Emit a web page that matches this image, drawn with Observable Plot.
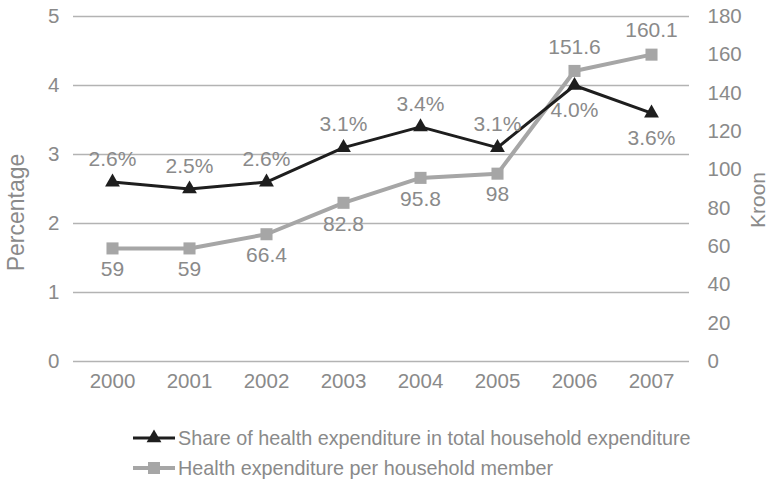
<!DOCTYPE html>
<html>
<head>
<meta charset="utf-8">
<script src="https://cdn.jsdelivr.net/npm/d3@7"></script>
<script src="https://cdn.jsdelivr.net/npm/@observablehq/plot@0.6"></script>
<style>
  body { margin: 0; background: #fff; font-family: "Liberation Sans", Arial, sans-serif; }
  #legend { margin-left: 133px; color: #8a8a8a; font-size: 19.8px; }
  .row { display: flex; align-items: center; height: 30px; }
  .row svg { margin-right: 1px; }
</style>
</head>
<body>
<div id="chart"></div>
<div id="legend"></div>
<script>
const years = ["2000","2001","2002","2003","2004","2005","2006","2007"];
const sharePct = [2.6, 2.5, 2.6, 3.1, 3.4, 3.1, 4.0, 3.6];
const perMember = [59, 59, 66.4, 82.8, 95.8, 98, 151.6, 160.1];
const shareLabels = ["2.6%","2.5%","2.6%","3.1%","3.4%","3.1%","4.0%","3.6%"];
const memberLabels = ["59","59","66.4","82.8","95.8","98","151.6","160.1"];
const leftTicks = [0,1,2,3,4,5];
const rightTicks = [0,20,40,60,80,100,120,140,160,180];
const seriesNames = ["Share of health expenditure in total household expenditure", "Health expenditure per household member"];

const ratio = 36; // 180 kroon == 5 %
const shareData = years.map((y,i) => ({year: y, v: sharePct[i], label: shareLabels[i], above: i < 6}));
const memberData = years.map((y,i) => ({year: y, v: perMember[i] / ratio, label: memberLabels[i], above: i >= 6}));

const textColor = "#8a8a8a";
const blackC = "#1e1e1e";
const grayC = "#a6a6a6";
const FS = 21;

const chart = Plot.plot({
  width: 772,
  height: 405,
  marginLeft: 73,
  marginRight: 83,
  marginTop: 16,
  marginBottom: 44,
  style: {fontFamily: "'Liberation Sans', Arial, sans-serif", fontSize: "20px", color: textColor, background: "#fff"},
  x: {type: "point", domain: years, padding: 0.5},
  y: {domain: [0, 5]},
  marks: [
    Plot.ruleY(leftTicks, {stroke: "#b3b3b3", strokeWidth: 1.5}),
    Plot.axisX({tickSize: 0, tickPadding: 12, fontSize: 20.5, label: null, fill: textColor}),
    Plot.axisY(leftTicks, {anchor: "left", tickSize: 0, tickPadding: 14, fontSize: 20.5, label: null, fill: textColor, tickFormat: d => String(d)}),
    Plot.axisY(rightTicks.map(d => d / ratio), {anchor: "right", tickSize: 0, tickPadding: 18, fontSize: 20.5, label: null, fill: textColor, textAnchor: "start", tickFormat: d => String(Math.round(d * ratio))}),
    Plot.text(["Percentage"], {frameAnchor: "left", textAnchor: "middle", dx: -57, dy: 23.5, rotate: -90, fontSize: 23, fill: textColor}),
    Plot.text(["Kroon"], {frameAnchor: "right", textAnchor: "middle", dx: 69, dy: 11, rotate: -90, fontSize: 21, fill: textColor}),
    Plot.line(memberData, {x: "year", y: "v", stroke: grayC, strokeWidth: 4}),
    Plot.dot(memberData, {x: "year", y: "v", symbol: "square", r: 6.8, fill: grayC, stroke: null}),
    Plot.line(shareData, {x: "year", y: "v", stroke: blackC, strokeWidth: 3}),
    Plot.dot(shareData, {x: "year", y: "v", symbol: "triangle", r: 5.5, fill: blackC, stroke: null}),
    Plot.text(shareData, {x: "year", y: "v", text: "label", fill: textColor, fontSize: FS,
      filter: d => d.above, dy: -23}),
    Plot.text(shareData, {x: "year", y: "v", text: "label", fill: textColor, fontSize: FS,
      filter: d => !d.above, dy: 25}),
    Plot.text(memberData, {x: "year", y: "v", text: "label", fill: textColor, fontSize: FS,
      filter: d => d.above, dy: -24}),
    Plot.text(memberData, {x: "year", y: "v", text: "label", fill: textColor, fontSize: FS,
      filter: d => !d.above, dy: 21})
  ]
});
document.getElementById("chart").appendChild(chart);

// Legend
const legend = d3.select("#legend").style("margin-top", "18px");
const items = [
  {name: seriesNames[0], color: blackC, sym: d3.symbolTriangle, size: Math.PI * 5.5 * 5.5, w: 3},
  {name: seriesNames[1], color: grayC, sym: d3.symbolSquare, size: Math.PI * 6.8 * 6.8, w: 4}
];
items.forEach(it => {
  const row = legend.append("div").attr("class", "row");
  const s = row.append("svg").attr("width", 44).attr("height", 20);
  s.append("line").attr("x1", 0).attr("x2", 42).attr("y1", 10).attr("y2", 10)
    .attr("stroke", it.color).attr("stroke-width", it.w);
  s.append("path").attr("d", d3.symbol(it.sym, it.size)()).attr("transform", "translate(21,10)")
    .attr("fill", it.color);
  row.append("span").text(it.name);
});
</script>
</body>
</html>
